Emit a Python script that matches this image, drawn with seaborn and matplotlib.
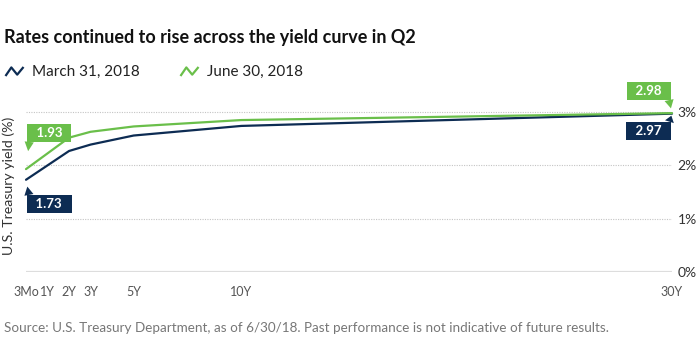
import pandas as pd
import numpy as np
import matplotlib.pyplot as plt
import seaborn as sns
from matplotlib.lines import Line2D
from matplotlib.path import Path

sns.set_style("white")
plt.rcParams['font.family'] = ['Lato', 'DejaVu Sans']

# data (the chart puts 3Mo at the origin of a linear years axis)
maturity_years = [0, 2, 3, 5, 10, 30]
march_yields = [1.73, 2.27, 2.39, 2.56, 2.74, 2.97]
june_yields = [1.93, 2.52, 2.63, 2.73, 2.85, 2.98]
series_names = ["March 31, 2018", "June 30, 2018"]
tick_years = [0, 1, 2, 3, 5, 10, 30]
tick_labels = ["3Mo", "1Y", "2Y", "3Y", "5Y", "10Y", "30Y"]
y_ticks = [0, 1, 2, 3]

navy = "#0d2c53"
green = "#6abf4a"
palette = {series_names[0]: navy, series_names[1]: green}

df = pd.DataFrame({
    "maturity": maturity_years * 2,
    "yield": march_yields + june_yields,
    "date": [series_names[0]] * len(march_yields) + [series_names[1]] * len(june_yields),
})

fig = plt.figure(figsize=(6.96, 3.61), dpi=100)
ax = fig.add_axes([26 / 696, 89 / 361, 646 / 696, 170.6 / 361])

sns.lineplot(data=df, x="maturity", y="yield", hue="date", palette=palette,
             linewidth=1.6, ax=ax, legend=False)
for ln in ax.lines:
    ln.set_clip_on(False)

ax.set_xlim(0, 30)
ax.set_ylim(0, 3.2)
ax.set_xticks(tick_years)
ax.set_xticklabels(tick_labels, color="#555555", fontsize=9,
                   family=['Liberation Sans Narrow', 'Lato'])
ax.set_yticks(y_ticks)
ax.set_yticklabels([f"{v}%" for v in y_ticks], color="#333333", fontsize=10)
ax.yaxis.tick_right()
ax.tick_params(axis="both", length=0)
ax.tick_params(axis="y", pad=4)
ax.tick_params(axis="x", pad=10)
ax.set_xlabel("")
ax.set_ylabel("")
for s in ax.spines.values():
    s.set_visible(False)

for v in y_ticks:
    if v == 0:
        ax.axhline(v, color="#dddddd", lw=1.6, zorder=0)
    else:
        ax.axhline(v, color="#c4c4c4", lw=0.8, ls=(0, (1, 1.2)), zorder=0)

fig.text(9 / 696, 1 - 186 / 361, "U.S. Treasury yield (%)", rotation=90,
         ha="center", va="center", fontsize=10.2, color="#333333")

# value callouts
def callout(x, y, text, color, dx, dy, rel, shrink):
    ax.annotate(text, xy=(x, y), xytext=(dx, dy), textcoords="offset points",
                ha="center", va="center", color="white", fontsize=9.5, fontweight="bold",
                bbox=dict(boxstyle="square,pad=0.22", fc=color, ec="none"),
                arrowprops=dict(arrowstyle="wedge,tail_width=0.7", fc=color, ec="none",
                                relpos=rel, shrinkA=0, shrinkB=shrink),
                annotation_clip=False)

callout(maturity_years[0], june_yields[0], "  " + f"{june_yields[0]:.2f}" + "  ", green, 16.6, 26, (0, 0), 13)
callout(maturity_years[0], march_yields[0], "  " + f"{march_yields[0]:.2f}" + "  ", navy, 16.6, -17.3, (0, 1), 5)
callout(maturity_years[-1], june_yields[-1], "  " + f"{june_yields[-1]:.2f}" + "  ", green, -16.6, 15.8, (1, 0), 3.5)
callout(maturity_years[-1], march_yields[-1], "  " + f"{march_yields[-1]:.2f}" + "  ", navy, -16.6, -12.2, (1, 1), 1.5)

# legend with zigzag icons
zig = Path([(-1, -0.5), (-0.35, 0.45), (0.3, -0.35), (1, 0.5)],
           [Path.MOVETO, Path.LINETO, Path.LINETO, Path.LINETO])
handles = [Line2D([], [], marker=zig, linestyle="none", markersize=13,
                  markerfacecolor="none", markeredgecolor=palette[n], markeredgewidth=1.6)
           for n in series_names]
fig.legend(handles, series_names, loc="center left", bbox_to_anchor=(0.0, 1 - 72 / 361),
           ncol=2, frameon=False, fontsize=11, handlelength=1.2, handletextpad=0.6,
           columnspacing=2.6, labelcolor="#222222", borderaxespad=0, borderpad=0.3)

fig.text(4 / 696, 1 - 38 / 361, "Rates continued to rise across the yield curve in Q2",
         ha="left", va="center", fontsize=13, fontweight="bold", color="#111111")
fig.text(4 / 696, 1 - 328 / 361,
         "Source: U.S. Treasury Department, as of 6/30/18. Past performance is not indicative of future results.",
         ha="left", va="center", fontsize=9.7, color="#777777")

plt.savefig("out.png", dpi=100)
plt.close("all")
